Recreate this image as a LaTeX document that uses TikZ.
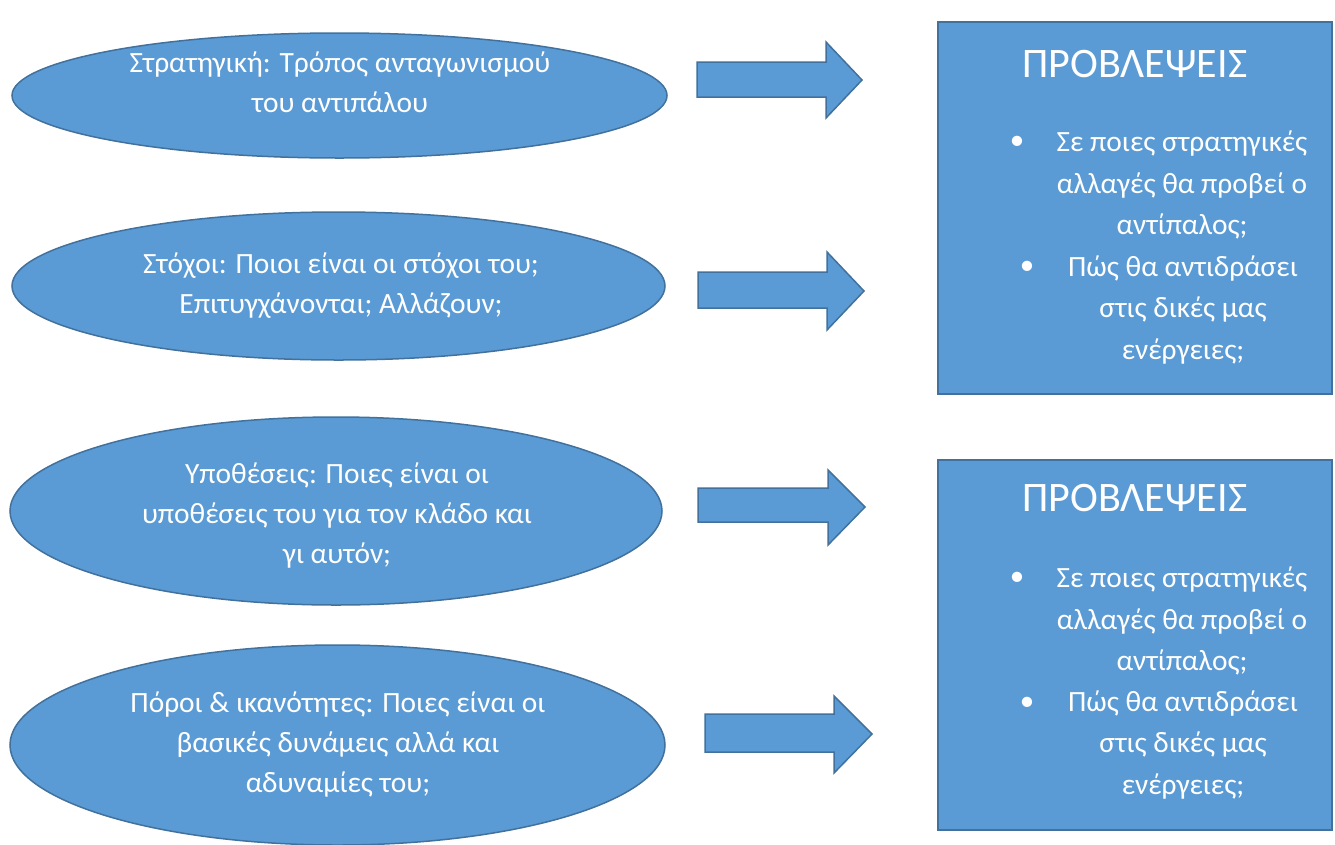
\documentclass[tikz,border=0pt]{standalone}
\usepackage{fontspec}
\setmainfont{Carlito}
\usetikzlibrary{shapes.geometric}
\begin{document}
\begin{tikzpicture}[x=1pt,y=-1pt]
\definecolor{shapefill}{HTML}{5B9BD5}
\definecolor{shapeline}{HTML}{41719C}
\tikzset{
  oval/.style={ellipse, fill=shapefill, draw=shapeline, line width=1.5pt, inner sep=0pt},
  panel/.style={rectangle, fill=shapefill, draw=shapeline, line width=1.5pt, inner sep=0pt},
  blockarrow/.style={fill=shapefill, draw=shapeline, line width=1.5pt, line join=miter},
  ovaltext/.style={text=white, align=center, font=\fontsize{29.4}{40}\selectfont},
  itemtext/.style={text=white, align=center, font=\fontsize{29.4}{41.5}\selectfont},
  titletext/.style={text=white, font=\fontsize{42}{48}\selectfont},
  dot/.style={text=white, font=\fontsize{29}{32}\selectfont}
}
\useasboundingbox (0,0) rectangle (1335,844);
\fill[white] (0,0) rectangle (1335,844);

% left column: ovals
\node[oval, minimum width=655, minimum height=125] (e1) at (339.5,95.5) {};
\node[oval, minimum width=653, minimum height=148] (e2) at (338.5,286) {};
\node[oval, minimum width=652, minimum height=188] (e3) at (336,511) {};
\node[oval, minimum width=655, minimum height=200] (e4) at (337.5,745) {};

\node[ovaltext] (t1) at (340,82) {Στρατηγική: Τρόπος ανταγωνισμού\\του αντιπάλου};
\node[ovaltext] (t2) at (341,286) {Στόχοι: Ποιοι είναι οι στόχοι του;\\Επιτυγχάνονται; Αλλάζουν;};
\node[ovaltext] (t3) at (337,516) {Υποθέσεις: Ποιες είναι οι\\υποθέσεις του για τον κλάδο και\\γι αυτόν;};
\node[ovaltext] (t4) at (338,745) {Πόροι \& ικανότητες: Ποιες είναι οι\\βασικές δυνάμεις αλλά και\\αδυναμίες του;};

% middle column: block arrows
\draw[blockarrow] (697,62) -- (826,62) -- (826,42) -- (862,80) -- (826,118) -- (826,97) -- (697,97) -- cycle;
\draw[blockarrow] (698,272) -- (827,272) -- (827,252) -- (864,291) -- (827,330) -- (827,308) -- (698,308) -- cycle;
\draw[blockarrow] (698,488) -- (828,488) -- (828,470) -- (865,507) -- (828,545) -- (828,522) -- (698,522) -- cycle;
\draw[blockarrow] (705,714) -- (834,714) -- (834,696) -- (872,734) -- (834,773) -- (834,752) -- (705,752) -- cycle;

% right column: prediction panels
\node[panel, minimum width=394, minimum height=372] (b1) at (1135,208) {};
\node[panel, minimum width=394, minimum height=370] (b2) at (1135,645) {};

\node[titletext] (h1) at (1135,64) {ΠΡΟΒΛΕΨΕΙΣ};
\node[dot] (d1a) at (1017,143) {•};
\node[itemtext] (i1a) at (1182,185) {Σε ποιες στρατηγικές\\αλλαγές θα προβεί ο\\αντίπαλος;};
\node[dot] (d1b) at (1027,268) {•};
\node[itemtext] (i1b) at (1183,310) {Πώς θα αντιδράσει\\στις δικές μας\\ενέργειες;};

\node[titletext] (h2) at (1135,498) {ΠΡΟΒΛΕΨΕΙΣ};
\node[dot] (d2a) at (1017,579) {•};
\node[itemtext] (i2a) at (1182,621) {Σε ποιες στρατηγικές\\αλλαγές θα προβεί ο\\αντίπαλος;};
\node[dot] (d2b) at (1027,704) {•};
\node[itemtext] (i2b) at (1183,745) {Πώς θα αντιδράσει\\στις δικές μας\\ενέργειες;};
\end{tikzpicture}
\end{document}
